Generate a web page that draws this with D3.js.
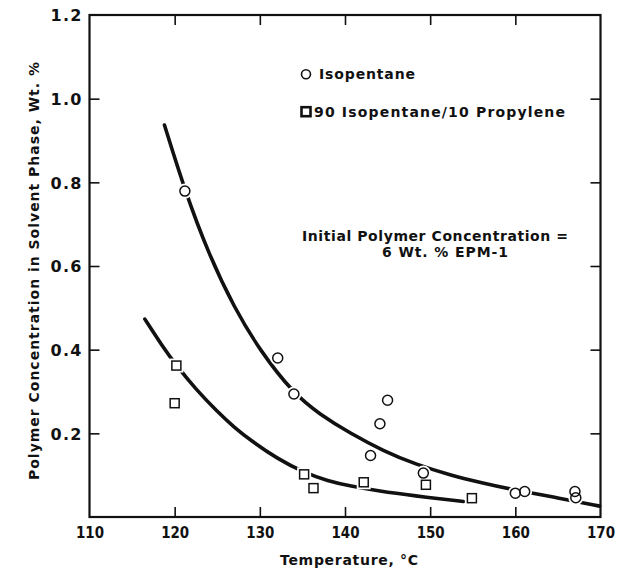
<!DOCTYPE html>
<html>
<head>
<meta charset="utf-8">
<script src="https://cdn.jsdelivr.net/npm/d3@7"></script>
<style>
  body { margin: 0; background: #fff; }
  svg text { font-family: "DejaVu Sans", "Liberation Sans", Arial, sans-serif; font-weight: bold; fill: #111; }
</style>
</head>
<body>
<svg id="chart" width="617" height="577"></svg>
<script>
// data
var isoTemp = [121.2, 132.1, 134.0, 143.0, 144.1, 145.0, 149.2, 160.0, 161.1, 167.0, 167.1];
var isoConc = [0.779, 0.380, 0.294, 0.147, 0.223, 0.279, 0.105, 0.057, 0.061, 0.061, 0.046];

var mixTemp = [120.0, 120.2, 135.2, 136.3, 142.2, 149.5, 154.9];
var mixConc = [0.272, 0.362, 0.102, 0.069, 0.083, 0.077, 0.045];

// hand drawn fit curves
var isoCurveT = [118.8, 121.2, 124.0, 127.0, 130.0, 134.0, 137.0, 140.6, 144.5, 148.4, 152.4, 156.0, 160.0, 165.0, 169.9];
var isoCurveC = [0.937, 0.780, 0.628, 0.500, 0.398, 0.294, 0.246, 0.200, 0.158, 0.125, 0.100, 0.082, 0.064, 0.046, 0.026];
var mixCurveT = [116.5, 118.5, 120.2, 122.5, 125.0, 127.0, 129.0, 132.0, 135.2, 138.0, 140.6, 144.0, 148.0, 153.9];
var mixCurveC = [0.473, 0.410, 0.362, 0.305, 0.252, 0.214, 0.182, 0.140, 0.106, 0.086, 0.074, 0.062, 0.051, 0.037];

var xTicks = [110, 120, 130, 140, 150, 160, 170];
var yTicks = [0.2, 0.4, 0.6, 0.8, 1.0, 1.2];

var padL = 89.5, padR = 600.5, padT = 15, padB = 517;

var svg = d3.select('#chart');
var x = d3.scaleLinear().domain([110, 170]).range([padL, padR]);
var y = d3.scaleLinear().domain([0, 1.2]).range([padB, padT]);

var innerX = xTicks.slice(1, -1), innerY = yTicks.slice(0, -1);

// axes, ticks pointing inward
var gB = svg.append('g').attr('transform', 'translate(0,' + padB + ')')
  .call(d3.axisBottom(x).tickValues(xTicks).tickSizeInner(-10).tickSizeOuter(0).tickFormat(d3.format('d')));
var gL = svg.append('g').attr('transform', 'translate(' + padL + ',0)')
  .call(d3.axisLeft(y).tickValues(yTicks).tickSizeInner(-10).tickSizeOuter(0).tickFormat(d3.format('.1f')));
var gT = svg.append('g').attr('transform', 'translate(0,' + padT + ')')
  .call(d3.axisTop(x).tickValues(innerX).tickSizeInner(-10).tickSizeOuter(0).tickFormat(''));
var gR = svg.append('g').attr('transform', 'translate(' + padR + ',0)')
  .call(d3.axisRight(y).tickValues(innerY).tickSizeInner(-10).tickSizeOuter(0).tickFormat(''));

[gB, gL, gT, gR].forEach(function(g) {
  g.select('.domain').remove();
  g.selectAll('.tick line').attr('stroke', '#111').attr('stroke-width', 1.6);
});
// no tick marks on the corners
gB.selectAll('.tick').filter(function(d) { return d == 110 || d == 170; }).select('line').remove();
gL.selectAll('.tick').filter(function(d) { return d == 1.2; }).select('line').remove();

gB.selectAll('.tick text')
  .attr('y', 21).attr('dy', 0).attr('fill', '#111')
  .attr('font-size', 15).attr('textLength', 28).attr('lengthAdjust', 'spacingAndGlyphs');
gL.selectAll('.tick text')
  .attr('x', -8).attr('dy', '0.36em').attr('fill', '#111')
  .attr('font-size', 16).attr('textLength', 31).attr('lengthAdjust', 'spacing');

svg.append('rect')
  .attr('x', padL).attr('y', padT)
  .attr('width', padR - padL).attr('height', padB - padT)
  .attr('fill', 'none').attr('stroke', '#111').attr('stroke-width', 2.2);

// fit curves
var line = d3.line()
  .x(function(d) { return x(d[0]); })
  .y(function(d) { return y(d[1]); })
  .curve(d3.curveBasis);

svg.append('path')
  .datum(d3.zip(isoCurveT, isoCurveC))
  .attr('d', line)
  .attr('fill', 'none').attr('stroke', '#111').attr('stroke-width', 3.6).attr('stroke-linecap', 'round');
svg.append('path')
  .datum(d3.zip(mixCurveT, mixCurveC))
  .attr('d', line)
  .attr('fill', 'none').attr('stroke', '#111').attr('stroke-width', 3.6).attr('stroke-linecap', 'round');

var isoPts = d3.zip(isoTemp, isoConc), mixPts = d3.zip(mixTemp, mixConc);
var sq = 9;

// white halos first so the curves break around the symbols
var halo = svg.append('g').attr('fill', '#fff').attr('stroke', '#fff').attr('stroke-width', 5);
halo.selectAll('circle').data(isoPts).join('circle')
  .attr('cx', function(d) { return x(d[0]); })
  .attr('cy', function(d) { return y(d[1]); })
  .attr('r', 5);
halo.selectAll('rect').data(mixPts).join('rect')
  .attr('x', function(d) { return x(d[0]) - sq / 2; })
  .attr('y', function(d) { return y(d[1]) - sq / 2; })
  .attr('width', sq).attr('height', sq);

var marks = svg.append('g').attr('fill', 'none').attr('stroke', '#111').attr('stroke-width', 1.5);
marks.selectAll('circle').data(isoPts).join('circle')
  .attr('cx', function(d) { return x(d[0]); })
  .attr('cy', function(d) { return y(d[1]); })
  .attr('r', 5);
marks.selectAll('rect').data(mixPts).join('rect')
  .attr('x', function(d) { return x(d[0]) - sq / 2; })
  .attr('y', function(d) { return y(d[1]) - sq / 2; })
  .attr('width', sq).attr('height', sq);

// legend
svg.append('circle').attr('cx', 306).attr('cy', 74.3).attr('r', 4.5)
  .attr('fill', 'none').attr('stroke', '#111').attr('stroke-width', 1.6);
svg.append('rect').attr('x', 301.5).attr('y', 107.2).attr('width', 9).attr('height', 9)
  .attr('fill', 'none').attr('stroke', '#111').attr('stroke-width', 2.6);
svg.append('text').attr('x', 319).attr('y', 79.3).attr('font-size', 14)
  .attr('textLength', 96).attr('lengthAdjust', 'spacing').text('Isopentane');
svg.append('text').attr('x', 314).attr('y', 117.3).attr('font-size', 14)
  .attr('textLength', 251).attr('lengthAdjust', 'spacing').text('90 Isopentane/10 Propylene');

// note
svg.append('text').attr('x', 302).attr('y', 240.7).attr('font-size', 14)
  .attr('textLength', 266).attr('lengthAdjust', 'spacing').text('Initial Polymer Concentration =');
svg.append('text').attr('x', 382).attr('y', 257.3).attr('font-size', 14)
  .attr('textLength', 126).attr('lengthAdjust', 'spacing').text('6 Wt. % EPM-1');

// axis titles
svg.append('text').attr('x', 280).attr('y', 565).attr('font-size', 14)
  .attr('textLength', 138).attr('lengthAdjust', 'spacing').text('Temperature, °C');
svg.append('text')
  .attr('transform', 'translate(39,271) rotate(-90)')
  .attr('text-anchor', 'middle').attr('font-size', 14)
  .attr('textLength', 418).attr('lengthAdjust', 'spacing')
  .text('Polymer Concentration in Solvent Phase, Wt. %');
</script>
</body>
</html>
